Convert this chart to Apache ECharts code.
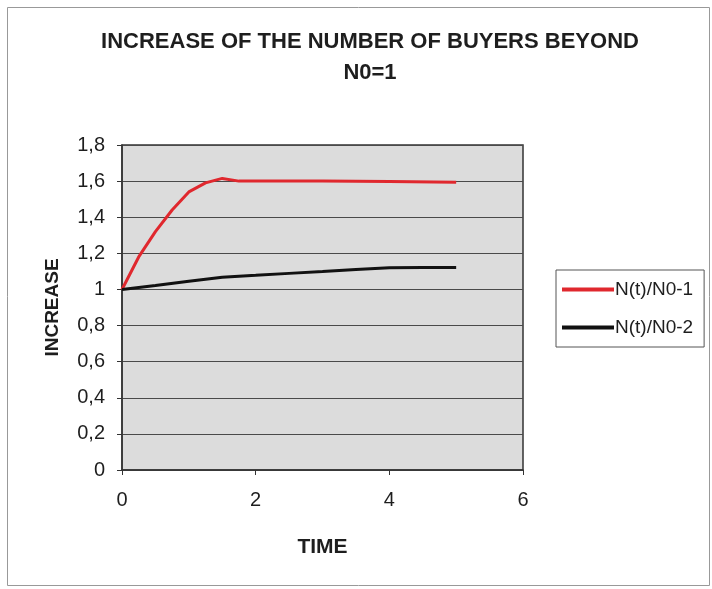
<!DOCTYPE html>
<html>
<head>
<meta charset="utf-8">
<script src="https://cdn.jsdelivr.net/npm/echarts@6/dist/echarts.min.js"></script>
<style>
  html, body { margin: 0; padding: 0; background: #ffffff; }
  #chart { width: 712px; height: 589px; }
</style>
</head>
<body>
<div id="chart"></div>
<script>
// Relative growth of buyers over time for two model variants
const times1 = [0, 0.25, 0.5, 0.75, 1, 1.25, 1.5, 1.75, 2, 3, 4, 5];
const ratio1 = [1, 1.18, 1.32, 1.44, 1.54, 1.59, 1.615, 1.6, 1.6, 1.6, 1.598, 1.594];
const times2 = [0, 0.5, 1, 1.5, 2, 2.5, 3, 3.5, 4, 4.5, 5];
const ratio2 = [1, 1.022, 1.045, 1.068, 1.078, 1.089, 1.099, 1.11, 1.12, 1.121, 1.122];
const seriesNames = ['N(t)/N0-1', 'N(t)/N0-2'];

const pairs = (xs, ys) => xs.map((x, i) => [x, ys[i]]);
const fmt = v => String(Math.round(v * 10) / 10).replace('.', ',');

const chart = echarts.init(document.getElementById('chart'), null, { renderer: 'canvas' });
const font = 'Liberation Sans, Arial, sans-serif';
const ink = '#1e1e1e';

chart.setOption({
  animation: false,
  backgroundColor: '#ffffff',
  title: {
    text: 'INCREASE OF THE NUMBER OF BUYERS BEYOND\nN0=1',
    left: 365,
    textAlign: 'center',
    top: 21,
    textStyle: { fontFamily: font, fontWeight: 'bold', fontSize: 22, lineHeight: 31, color: ink }
  },
  legend: {
    orient: 'vertical',
    left: 556,
    top: 270,
    padding: [10, 11, 10, 6],
    itemGap: 19,
    itemWidth: 52,
    itemHeight: 4,
    backgroundColor: '#ffffff',
    borderColor: '#555555',
    borderWidth: 1,
    borderRadius: 0,
    textStyle: { fontFamily: font, fontSize: 19, color: ink, padding: [0, 0, 0, -4] },
    data: seriesNames.map(n => ({ name: n, icon: 'rect' }))
  },
  grid: { left: 122, right: 189, top: 145, bottom: 119, show: true, backgroundColor: '#dcdcdc', borderColor: '#333333', borderWidth: 1.5 },
  xAxis: {
    type: 'value',
    min: 0, max: 6, interval: 2,
    name: 'TIME',
    nameLocation: 'middle',
    nameGap: 67,
    nameTextStyle: { fontFamily: font, fontWeight: 'bold', fontSize: 21, color: ink },
    axisLine: { show: true, lineStyle: { color: '#333333', width: 1.5 } },
    axisTick: { show: true, length: 5, lineStyle: { color: '#333333' } },
    axisLabel: { fontFamily: font, fontSize: 20, color: ink, margin: 20 },
    splitLine: { show: false }
  },
  yAxis: {
    type: 'value',
    min: 0, max: 1.8, interval: 0.2,
    name: 'INCREASE',
    nameLocation: 'middle',
    nameGap: 60,
    nameRotate: 90,
    nameTextStyle: { fontFamily: font, fontWeight: 'bold', fontSize: 19, color: ink },
    axisLine: { show: true, lineStyle: { color: '#333333', width: 1.5 } },
    axisTick: { show: true, length: 5, lineStyle: { color: '#333333' } },
    axisLabel: { fontFamily: font, fontSize: 20, color: ink, margin: 17, formatter: fmt },
    splitLine: { show: true, lineStyle: { color: '#4a4a4a', width: 1 } }
  },
  series: [
    {
      name: seriesNames[0], type: 'line', data: pairs(times1, ratio1),
      showSymbol: false, symbol: 'none',
      lineStyle: { color: '#e0282e', width: 3 }, itemStyle: { color: '#e0282e' }
    },
    {
      name: seriesNames[1], type: 'line', data: pairs(times2, ratio2),
      showSymbol: false, symbol: 'none',
      lineStyle: { color: '#111111', width: 3 }, itemStyle: { color: '#111111' }
    }
  ],
  graphic: [
    { type: 'rect', left: 5, top: 5, shape: { width: 702, height: 578 }, style: { fill: null, stroke: '#999999', lineWidth: 1 }, z: -1 }
  ]
});
</script>
</body>
</html>
